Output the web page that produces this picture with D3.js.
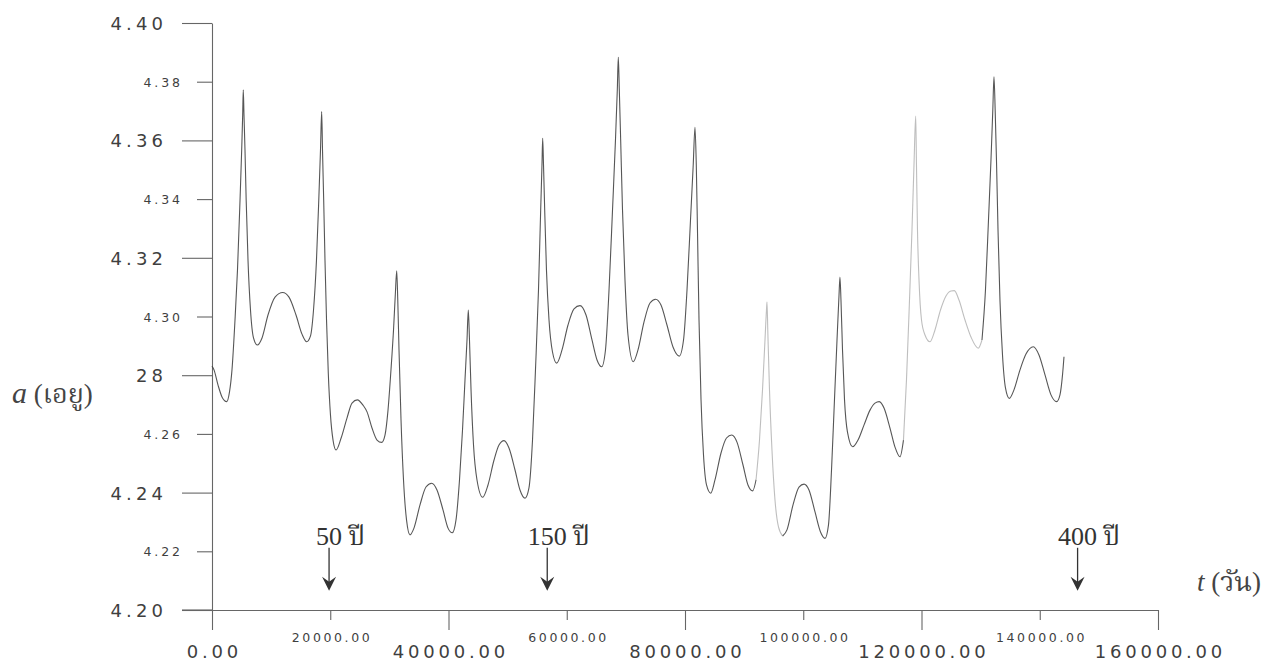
<!DOCTYPE html>
<html>
<head>
<meta charset="utf-8">
<script src="https://cdnjs.cloudflare.com/ajax/libs/d3/7.8.5/d3.min.js"></script>
<style>
  html, body { margin: 0; padding: 0; background: #ffffff; }
  svg { display: block; }
</style>
</head>
<body>
<svg id="chart" width="1278" height="663"></svg>
<script>
// ---------------- data ----------------
const tDays = [0,340,1010,1690,2490,2960,3380,3890,4310,4740,5020,5190,5290,5410,5580,5780,6090,6510,7020,7660,
  8460,9470,10660,11960,13020,14210,15220,16020,16660,17170,17670,18060,18350,18550,18690,18890,19110,19370,19670,20040,
  20470,20980,21840,22830,23680,24580,25540,26220,27060,27910,28700,29260,29770,30270,30700,31000,31240,31420,31630,31970,
  32390,32900,33490,34160,35180,36190,37160,38050,39070,39920,40640,41270,41860,42370,42790,43130,43350,43550,43810,44230,
  44820,45780,46680,47700,48540,49390,50230,51250,52090,52940,53610,54210,54710,55220,55590,55810,55930,56070,56270,56570,
  57000,57590,58300,59200,60210,61230,62240,63260,64270,65120,65910,66550,67150,67740,68240,68550,68720,68890,69120,69430,
  69850,70360,71250,72050,73060,74080,75040,75940,76950,77970,79030,79750,80340,80930,81390,81690,81910,82110,82370,82710,
  83130,83640,84350,85070,86090,87020,87900,88790,89810,90650,91450,92010,92600,93110,93530,93780,93870,94000,94290,94710,
  95220,95810,96520,97250,98270,99280,100130,100970,101990,102920,103680,104270,104780,105280,105710,106050,106210,106380,106640,106980,
  107480,108360,109260,110270,111290,112130,112860,113660,114670,115520,116360,116950,117460,117970,118390,118730,119020,119150,119320,119580,
  120000,120590,121440,122280,123210,124140,124990,125550,126340,127360,128370,129600,130230,130820,131330,131750,132060,132260,132460,132680,
  132940,133270,133700,134210,134850,135640,136660,137670,138910,139870,140890,141900,142860,143420,143850,144100];
const aAU = [4.2831,4.2818,4.2767,4.2726,4.2710,4.2743,4.2818,4.2988,4.3158,4.3397,4.3567,4.3687,4.3772,4.3687,4.3567,4.3397,4.3192,4.3022,4.2927,4.2903,
  4.2927,4.3005,4.3066,4.3082,4.3066,4.3005,4.2940,4.2914,4.2934,4.3022,4.3192,4.3397,4.3567,4.3698,4.3567,4.3397,4.3192,4.2988,4.2807,4.2664,
  4.2579,4.2545,4.2586,4.2654,4.2705,4.2716,4.2698,4.2675,4.2620,4.2579,4.2571,4.2596,4.2681,4.2818,4.2954,4.3073,4.3156,4.3056,4.2886,4.2647,
  4.2443,4.2307,4.2256,4.2279,4.2358,4.2419,4.2432,4.2409,4.2341,4.2279,4.2263,4.2307,4.2443,4.2613,4.2784,4.2920,4.3022,4.2920,4.2750,4.2562,
  4.2443,4.2384,4.2426,4.2511,4.2562,4.2577,4.2552,4.2477,4.2409,4.2381,4.2416,4.2579,4.2818,4.3090,4.3363,4.3516,4.3607,4.3516,4.3363,4.3158,
  4.2988,4.2879,4.2841,4.2886,4.2971,4.3026,4.3037,4.3005,4.2920,4.2852,4.2829,4.2886,4.3090,4.3363,4.3601,4.3772,4.3883,4.3772,4.3601,4.3363,
  4.3124,4.2937,4.2846,4.2886,4.2981,4.3046,4.3059,4.3039,4.2971,4.2896,4.2865,4.2920,4.3090,4.3329,4.3516,4.3645,4.3516,4.3295,4.2988,4.2716,
  4.2528,4.2426,4.2398,4.2443,4.2535,4.2586,4.2596,4.2572,4.2494,4.2426,4.2406,4.2443,4.2579,4.2750,4.2920,4.3022,4.3049,4.2954,4.2750,4.2545,
  4.2375,4.2283,4.2252,4.2273,4.2358,4.2419,4.2429,4.2409,4.2334,4.2266,4.2244,4.2290,4.2477,4.2716,4.2920,4.3073,4.3134,4.3056,4.2886,4.2716,
  4.2606,4.2556,4.2579,4.2630,4.2681,4.2705,4.2710,4.2688,4.2620,4.2555,4.2522,4.2579,4.2784,4.3056,4.3295,4.3516,4.3683,4.3516,4.3295,4.3124,
  4.2988,4.2937,4.2914,4.2954,4.3022,4.3070,4.3087,4.3088,4.3056,4.2988,4.2930,4.2892,4.2920,4.3090,4.3329,4.3533,4.3704,4.3817,4.3704,4.3533,
  4.3295,4.3056,4.2869,4.2756,4.2721,4.2750,4.2818,4.2872,4.2897,4.2869,4.2801,4.2733,4.2710,4.2733,4.2801,4.2863];
// stretches that are printed faintly in the original
const faintRanges = [[92000, 96500], [117200, 130500]];

const yTickValues = [4.20, 4.22, 4.24, 4.26, 4.28, 4.30, 4.32, 4.34, 4.36, 4.38, 4.40];
const yTickLabels = ["4.20", "4.22", "4.24", "4.26", "28", "4.30", "4.32", "4.34", "4.36", "4.38", "4.40"];
const xTickValues = [0, 20000, 40000, 60000, 80000, 100000, 120000, 140000, 160000];
const xTickLabels = ["0.00", "20000.00", "40000.00", "60000.00", "80000.00", "100000.00", "120000.00", "140000.00", "160000.00"];

const markerT = [19800, 56700, 146400];
const markerNum = ["50", "150", "400"];
const markerUnit = " ปี";
const markerTop = 4.2212, markerTip = 4.2066, markerTextA = 4.2222;

const yTitleItalic = "a", yTitleRest = " (เอยู)";
const xTitleItalic = "t", xTitleRest = " (วัน)";

// ---------------- drawing ----------------
const svg = d3.select("#chart");
const x = d3.scaleLinear().domain([0, 160000]).range([212, 1158]);
const y = d3.scaleLinear().domain([4.20, 4.40]).range([610, 23]);

const axisColor = "#666";
const textColor = "#3f3f3f";
const sansFont = "'DejaVu Sans', Verdana, sans-serif";
const serifFont = "'Liberation Serif', 'Times New Roman', 'Noto Serif Thai', 'Noto Sans Thai', serif";

// y axis
const yAxisG = svg.append("g").attr("transform", "translate(212,0)")
  .call(d3.axisLeft(y).tickValues(yTickValues).tickFormat((d, i) => yTickLabels[i]).tickSize(30).tickSizeOuter(0));
yAxisG.select(".domain").attr("stroke", axisColor).attr("stroke-width", 1.1);
yAxisG.selectAll(".tick line").attr("stroke", axisColor).attr("stroke-width", 1.1)
  .attr("x2", (d, i) => i % 2 === 0 ? -30 : -15);
yAxisG.selectAll(".tick text")
  .attr("fill", textColor)
  .attr("font-family", sansFont)
  .each(function (d, i) {
    const major = i % 2 === 0;
    const fs = major ? 18 : 12.5;
    const ls = fs * 0.23;
    d3.select(this)
      .attr("font-size", fs)
      .attr("letter-spacing", ls)
      .attr("x", major ? -49 + ls : -32 + ls)
      .attr("dy", "0.36em");
  });

// x axis
const xAxisG = svg.append("g").attr("transform", "translate(0,610)")
  .call(d3.axisBottom(x).tickValues(xTickValues).tickFormat((d, i) => xTickLabels[i]).tickSize(20).tickSizeOuter(0));
xAxisG.select(".domain").attr("stroke", axisColor).attr("stroke-width", 1.1);
xAxisG.selectAll(".tick line").attr("stroke", axisColor).attr("stroke-width", 1.1)
  .attr("y2", (d, i) => i % 2 === 0 ? 20 : 10);
xAxisG.selectAll(".tick text")
  .attr("fill", textColor)
  .attr("font-family", sansFont)
  .each(function (d, i) {
    const major = i % 2 === 0;
    const fs = major ? 18 : 12.5;
    const ls = fs * 0.21;
    d3.select(this)
      .attr("font-size", fs)
      .attr("letter-spacing", ls)
      .attr("dx", ls / 2)
      .attr("y", major ? 48 : 32)
      .attr("dy", 0);
  });
// extend x axis line to the left like the original
svg.append("line")
  .attr("x1", x(0) - 30).attr("x2", x(0))
  .attr("y1", y(4.20)).attr("y2", y(4.20))
  .attr("stroke", axisColor).attr("stroke-width", 1.1);

// curve
const pts = tDays.map((t, i) => ({ t: t, a: aAU[i] }));
const isFaint = t => faintRanges.some(r => t >= r[0] && t <= r[1]);
const segs = [];
let cur = null;
for (let i = 0; i < pts.length; i++) {
  const f = i < pts.length - 1 ? isFaint((pts[i].t + pts[i + 1].t) / 2) : (cur ? cur.faint : false);
  if (!cur || cur.faint !== f) {
    const seg = { faint: f, pts: [pts[i]] };
    if (cur) cur.pts.push(pts[i]);
    cur = seg;
    segs.push(cur);
  } else {
    cur.pts.push(pts[i]);
  }
}
const line = d3.line().x(d => x(d.t)).y(d => y(d.a)).curve(d3.curveMonotoneX);
svg.append("g").selectAll("path").data(segs).join("path")
  .attr("d", d => line(d.pts))
  .attr("fill", "none")
  .attr("stroke", "#444")
  .attr("stroke-opacity", d => d.faint ? 0.35 : 0.9)
  .attr("stroke-width", 1.1)
  .attr("stroke-linejoin", "round");

// markers (arrows with year labels)
const mk = svg.append("g");
markerT.forEach((t, i) => {
  const cx = x(t);
  const txt = mk.append("text")
    .attr("y", y(markerTextA))
    .attr("font-family", serifFont)
    .attr("font-size", 26)
    .attr("fill", "#333");
  const numSpan = txt.append("tspan").text(markerNum[i]);
  txt.append("tspan").text(markerUnit);
  const numW = numSpan.node().getComputedTextLength();
  txt.attr("x", cx - numW / 2);
  mk.append("line")
    .attr("x1", cx).attr("x2", cx)
    .attr("y1", y(markerTop)).attr("y2", y(markerTip) - 6)
    .attr("stroke", "#333").attr("stroke-width", 1.3);
  const tipY = y(markerTip);
  mk.append("path")
    .attr("d", `M${cx},${tipY} L${cx - 7},${tipY - 14} L${cx},${tipY - 9} L${cx + 7},${tipY - 14} Z`)
    .attr("fill", "#333");
});

// axis titles
const yt = svg.append("text")
  .attr("x", 12).attr("y", 403)
  .attr("font-family", serifFont).attr("font-size", 27).attr("fill", "#444");
yt.append("tspan").attr("font-style", "italic").attr("font-size", 30).text(yTitleItalic);
yt.append("tspan").text(yTitleRest);

const xt = svg.append("text")
  .attr("x", 1197).attr("y", 591)
  .attr("font-family", serifFont).attr("font-size", 27).attr("fill", "#444");
xt.append("tspan").attr("font-style", "italic").text(xTitleItalic);
xt.append("tspan").text(xTitleRest);
</script>
</body>
</html>
